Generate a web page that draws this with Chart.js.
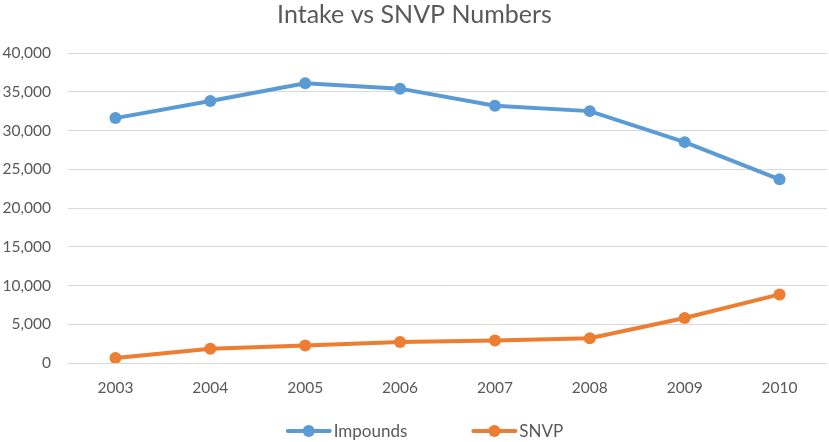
<!DOCTYPE html>
<html>
<head>
<meta charset="utf-8">
<script src="https://cdn.jsdelivr.net/npm/chart.js@4.4.0/dist/chart.umd.min.js"></script>
<style>
  html, body { margin: 0; padding: 0; background: #fff; }
  #wrap { width: 829px; height: 442px; }
</style>
</head>
<body>
<div id="wrap"><canvas id="chart"></canvas></div>
<script>
/* ===== Data ===== */
const years = ["2003", "2004", "2005", "2006", "2007", "2008", "2009", "2010"];
const impounds = [31600, 33800, 36100, 35400, 33200, 32500, 28500, 23700];
const snvp = [650, 1850, 2250, 2700, 2900, 3200, 5800, 8850];
const yTicks = [0, 5000, 10000, 15000, 20000, 25000, 30000, 35000, 40000];

const FONT = "Lato, 'Open Sans', sans-serif";
const TEXT = "#595959";

/* ===== Legend drawn at the bottom (line + marker, Excel style) ===== */
const bottomLegend = {
  id: "bottomLegend",
  afterDraw(chart){
    const ctx = chart.ctx;
    const y = 431, lineW = 42, gapText = 4, gapItem = 66;
    ctx.save();
    ctx.font = "17px " + FONT;
    const items = chart.data.datasets.map(ds => ({
      ds, w: lineW + gapText + ctx.measureText(ds.label).width
    }));
    const total = items.reduce((s, it) => s + it.w, 0) + gapItem * (items.length - 1);
    let x = chart.width / 2 - total / 2 + 11;
    items.forEach(it => {
      ctx.strokeStyle = it.ds.borderColor;
      ctx.lineWidth = 4;
      ctx.lineCap = "round";
      ctx.beginPath(); ctx.moveTo(x, y); ctx.lineTo(x + lineW, y); ctx.stroke();
      ctx.fillStyle = it.ds.borderColor;
      ctx.beginPath(); ctx.arc(x + lineW / 2, y, 6, 0, Math.PI * 2); ctx.fill();
      ctx.fillStyle = TEXT;
      ctx.textBaseline = "middle";
      ctx.fillText(it.ds.label, x + lineW + gapText, y + 1);
      x += it.w + gapItem;
    });
    ctx.restore();
  }
};

/* ===== Chart ===== */
new Chart(document.getElementById("chart"), {
  type: "line",
  data: {
    labels: years,
    datasets: [
      {
        label: "Impounds",
        data: impounds,
        borderColor: "#5B9BD5",
        backgroundColor: "#5B9BD5",
        borderWidth: 4,
        pointRadius: 6,
        pointBorderWidth: 0,
        tension: 0
      },
      {
        label: "SNVP",
        data: snvp,
        borderColor: "#ED7D31",
        backgroundColor: "#ED7D31",
        borderWidth: 4,
        pointRadius: 6,
        pointBorderWidth: 0,
        tension: 0
      }
    ]
  },
  options: {
    responsive: true,
    maintainAspectRatio: false,
    animation: false,
    layout: { autoPadding: false, padding: { left: 2, right: 2, top: 0, bottom: 44 } },
    plugins: {
      legend: { display: false },
      tooltip: { enabled: false },
      title: {
        display: true,
        text: "Intake vs SNVP Numbers",
        color: TEXT,
        font: { family: FONT, size: 25, weight: "normal" },
        padding: { top: 0, bottom: 23 }
      }
    },
    scales: {
      x: {
        offset: true,
        afterFit: (axis) => { axis.height = 35; },
        grid: { display: false, drawTicks: false },
        border: { display: false },
        ticks: { color: TEXT, font: { family: FONT, size: 15.5 }, padding: 16 }
      },
      y: {
        min: 0,
        max: 40000,
        afterBuildTicks: (axis) => { axis.ticks = yTicks.map(v => ({ value: v })); },
        afterFit: (axis) => { axis.width = 66; },
        grid: { color: "#D9D9D9", lineWidth: 1, drawTicks: false },
        border: { display: false },
        ticks: {
          color: TEXT,
          font: { family: FONT, size: 15.5 },
          padding: 17,
          callback: (v) => v.toLocaleString("en-US")
        }
      }
    }
  },
  plugins: [bottomLegend]
});
</script>
</body>
</html>
